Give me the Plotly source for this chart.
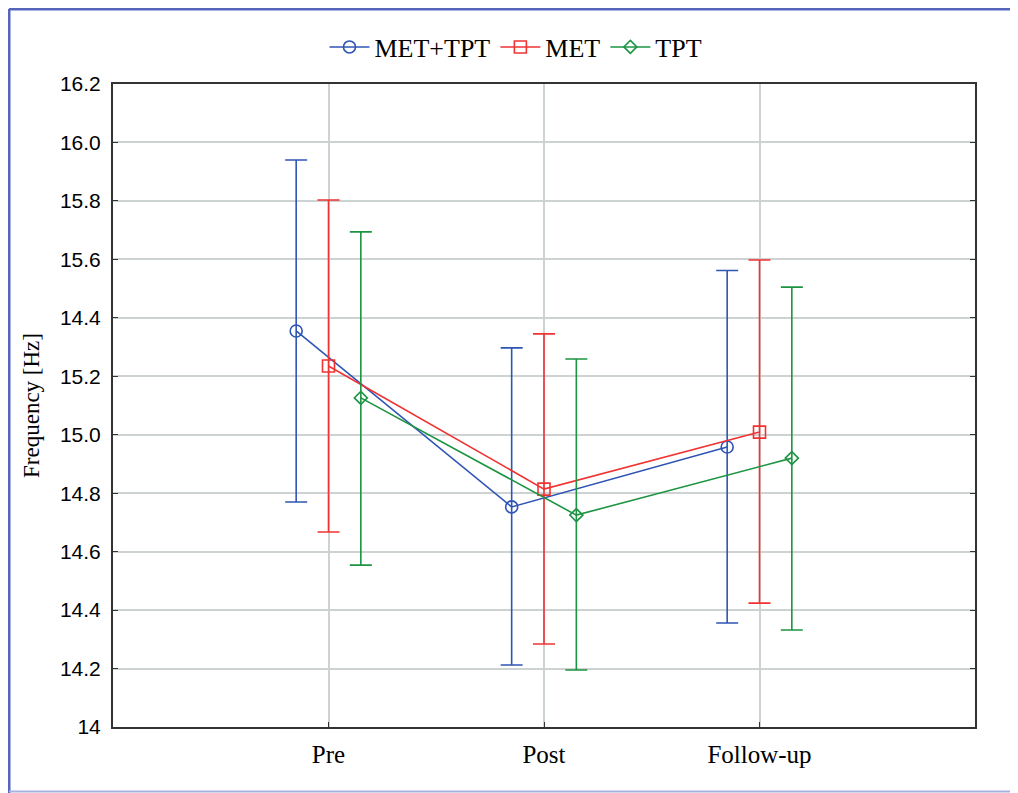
import plotly.graph_objects as go

categories = ["Pre", "Post", "Follow-up"]
series_names = ["MET+TPT", "MET", "TPT"]

met_tpt_mean = [15.355, 14.753, 14.958]
met_tpt_upper = [15.940, 15.297, 15.562]
met_tpt_lower = [14.770, 14.212, 14.356]

met_mean = [15.235, 14.814, 15.009]
met_upper = [15.803, 15.345, 15.598]
met_lower = [14.667, 14.284, 14.424]

tpt_mean = [15.126, 14.725, 14.920]
tpt_upper = [15.694, 15.259, 15.505]
tpt_lower = [14.554, 14.195, 14.332]

ytick_vals = [14.0, 14.2, 14.4, 14.6, 14.8, 15.0, 15.2, 15.4, 15.6, 15.8, 16.0, 16.2]
ytick_text = ["14", "14.2", "14.4", "14.6", "14.8", "15.0", "15.2", "14.4", "15.6", "15.8", "16.0", "16.2"]

colors = ["#2f55b4", "#f03232", "#1c9442"]
symbols = ["circle-open", "square-open", "diamond-open"]
offsets = [-0.15, 0.0, 0.15]

means = [met_tpt_mean, met_mean, tpt_mean]
uppers = [met_tpt_upper, met_upper, tpt_upper]
lowers = [met_tpt_lower, met_lower, tpt_lower]

fig = go.Figure()
for name, m, up, lo, c, s, off in zip(series_names, means, uppers, lowers, colors, symbols, offsets):
    xs = [i + off for i in range(len(categories))]
    fig.add_trace(go.Scatter(
        x=xs, y=m, name=name, mode="lines+markers",
        line=dict(color=c, width=1.6),
        marker=dict(symbol=s, size=12 if s != "diamond-open" else 10, color=c,
                    line=dict(color=c, width=1.6)),
        error_y=dict(type="data", symmetric=False,
                     array=[u - v for u, v in zip(up, m)],
                     arrayminus=[v - l for v, l in zip(m, lo)],
                     color=c, thickness=1.6, width=11),
    ))

serif = "Liberation Serif, Times New Roman, serif"
sans = "Liberation Sans, Arial, sans-serif"

# page body has an 8px margin: figure spans window x 8..1018, y 8..793
fig.update_layout(
    width=1010, height=785,
    margin=dict(l=105, r=43, t=76, b=66),
    paper_bgcolor="white", plot_bgcolor="white",
    showlegend=True,
    legend=dict(orientation="h", x=0.4675, xanchor="center", y=1.0575, yanchor="middle",
                font=dict(family=serif, size=26, color="black"),
                itemwidth=40, tracegroupgap=0),
    xaxis=dict(range=[-1, 3], tickvals=[0, 1, 2], ticktext=categories,
               showgrid=True, gridcolor="#cdd3d3", gridwidth=1.5,
               zeroline=False, showline=True, linecolor="#333333", linewidth=2,
               mirror=True, ticks="inside", ticklen=5, tickcolor="#333333",
               ticklabelstandoff=4,
               tickfont=dict(family=serif, size=25, color="black")),
    yaxis=dict(range=[14, 16.2], tickvals=ytick_vals, ticktext=ytick_text,
               showgrid=True, gridcolor="#cdd3d3", gridwidth=1.5,
               zeroline=False, showline=True, linecolor="#333333", linewidth=2,
               mirror="ticks", ticks="inside", ticklen=5, tickcolor="#333333",
               ticklabelstandoff=6,
               tickfont=dict(family=sans, size=21, color="black"),
               title=dict(text="Frequency [Hz]", standoff=14,
                          font=dict(family=serif, size=23, color="black"))),
)

frame_color = "#5565bd"
fx = (9 - 113) / 862
fy_top = (727 - 9) / 643
fig.add_shape(type="line", xref="paper", yref="paper",
              x0=fx, x1=1.2, y0=fy_top, y1=fy_top,
              line=dict(color=frame_color, width=3), layer="above")
fig.add_shape(type="line", xref="paper", yref="paper",
              x0=fx, x1=fx, y0=fy_top, y1=(727 - 793) / 643,
              line=dict(color=frame_color, width=3), layer="above")
fig.add_shape(type="line", xref="paper", yref="paper",
              x0=fx, x1=1.2, y0=(727 - 791.5) / 643, y1=(727 - 791.5) / 643,
              line=dict(color="#a6b2e2", width=2), layer="above")

fig.write_html("out.html")
